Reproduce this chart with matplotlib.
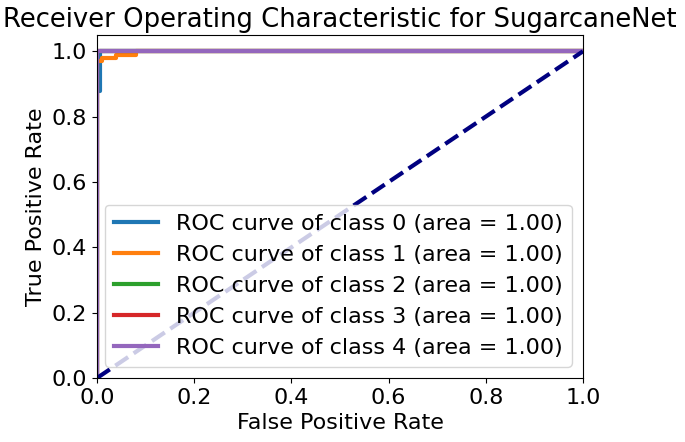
import numpy as np
import matplotlib.pyplot as plt

# ROC points (fpr, tpr) for each class
classes = [0, 1, 2, 3, 4]
colors = ['tab:blue', 'tab:orange', 'tab:green', 'tab:red', 'tab:purple']
areas = [1.00, 1.00, 1.00, 1.00, 1.00]

fpr0 = [0.0, 0.0, 0.006, 0.006, 1.0]
tpr0 = [0.0, 0.88, 0.88, 1.0, 1.0]
fpr1 = [0.0, 0.0, 0.01, 0.01, 0.04, 0.04, 0.08, 0.08, 1.0]
tpr1 = [0.0, 0.97, 0.97, 0.98, 0.98, 0.99, 0.99, 1.0, 1.0]
fpr2 = [0.0, 0.0, 1.0]
tpr2 = [0.0, 1.0, 1.0]
fpr3 = [0.0, 0.0, 1.0]
tpr3 = [0.0, 1.0, 1.0]
fpr4 = [0.0, 0.0, 1.0]
tpr4 = [0.0, 1.0, 1.0]

fprs = [fpr0, fpr1, fpr2, fpr3, fpr4]
tprs = [tpr0, tpr1, tpr2, tpr3, tpr4]

plt.rcParams['font.size'] = 16

fig = plt.figure(figsize=(6.85, 4.42), dpi=100)
ax = fig.add_axes([0.1416, 0.1448, 0.7094, 0.776])

for i, c in zip(classes, colors):
    ax.plot(fprs[i], tprs[i], color=c, lw=3,
            label='ROC curve of class {0} (area = {1:0.2f})'.format(i, areas[i]))

ax.plot([0, 1], [0, 1], color='navy', lw=3, linestyle='--')
ax.set_xlim([0.0, 1.0])
ax.set_ylim([0.0, 1.05])
ax.set_xlabel('False Positive Rate')
ax.set_ylabel('True Positive Rate')
ax.set_title('Receiver Operating Characteristic for SugarcaneNet', fontsize=18.6)
ax.legend(loc='lower right')

fig.savefig('out.png', dpi=100)
